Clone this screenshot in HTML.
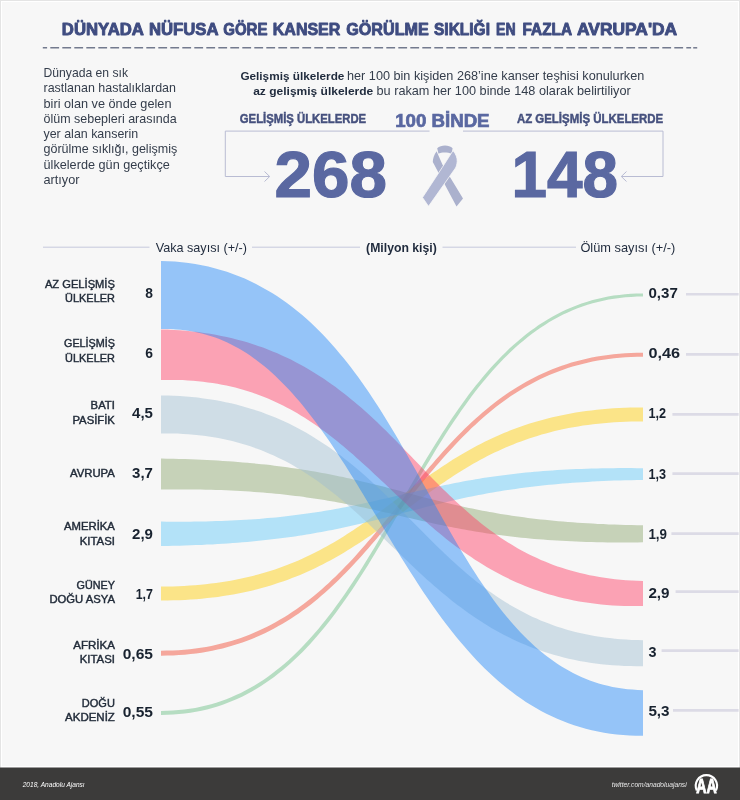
<!DOCTYPE html>
<html lang="tr"><head><meta charset="utf-8"><title>Dünyada nüfusa göre kanser görülme sıklığı</title>
<style>html,body{margin:0;padding:0;background:#f7f7f7;}body{width:740px;height:800px;overflow:hidden;}svg{display:block;font-family:"Liberation Sans",sans-serif;}</style></head>
<body><svg width="740" height="800" viewBox="0 0 740 800" font-family="Liberation Sans, sans-serif">
<rect x="0" y="0" width="740" height="800" fill="#e4e4e4"/>
<rect x="1" y="1" width="738" height="798" fill="#ffffff"/>
<rect x="2" y="2" width="736" height="764" fill="#f7f7f7"/>
<text y="35" font-size="16.6" font-weight="bold" fill="#3f4c80" stroke="#3f4c80" stroke-width="0.9" stroke-linejoin="round"><tspan x="61.8" textLength="81.5" lengthAdjust="spacingAndGlyphs">DÜNYADA</tspan> <tspan x="148.9" textLength="69.0" lengthAdjust="spacingAndGlyphs">NÜFUSA</tspan> <tspan x="223.2" textLength="44.3" lengthAdjust="spacingAndGlyphs">GÖRE</tspan> <tspan x="272.8" textLength="67.5" lengthAdjust="spacingAndGlyphs">KANSER</tspan> <tspan x="346.2" textLength="82.6" lengthAdjust="spacingAndGlyphs">GÖRÜLME</tspan> <tspan x="434.0" textLength="56.0" lengthAdjust="spacingAndGlyphs">SIKLIĞI</tspan> <tspan x="496.0" textLength="19.6" lengthAdjust="spacingAndGlyphs">EN</tspan> <tspan x="522.6" textLength="48.8" lengthAdjust="spacingAndGlyphs">FAZLA</tspan> <tspan x="577.0" textLength="100.2" lengthAdjust="spacingAndGlyphs">AVRUPA'DA</tspan></text>
<path d="M42.8 47.8H691.1" stroke="#737a8e" stroke-width="1.5" stroke-dasharray="8.8 3.2" stroke-dashoffset="4.5" fill="none"/>
<path d="M693.2 47.8H697.2" stroke="#737a8e" stroke-width="1.5" fill="none"/>
<text x="43.5" y="76.9" font-size="12.2" fill="#343d4b" textLength="84.5" lengthAdjust="spacingAndGlyphs">Dünyada en sık</text>
<text x="43.5" y="92.2" font-size="12.2" fill="#343d4b" textLength="132.5" lengthAdjust="spacingAndGlyphs">rastlanan hastalıklardan</text>
<text x="43.5" y="107.5" font-size="12.2" fill="#343d4b" textLength="128" lengthAdjust="spacingAndGlyphs">biri olan ve önde gelen</text>
<text x="43.5" y="122.8" font-size="12.2" fill="#343d4b" textLength="133.2" lengthAdjust="spacingAndGlyphs">ölüm sebepleri arasında</text>
<text x="43.5" y="138.1" font-size="12.2" fill="#343d4b" textLength="94.6" lengthAdjust="spacingAndGlyphs">yer alan kanserin</text>
<text x="43.5" y="153.4" font-size="12.2" fill="#343d4b" textLength="133.7" lengthAdjust="spacingAndGlyphs">görülme sıklığı, gelişmiş</text>
<text x="43.5" y="168.7" font-size="12.2" fill="#343d4b" textLength="126.3" lengthAdjust="spacingAndGlyphs">ülkelerde gün geçtikçe</text>
<text x="43.5" y="184.0" font-size="12.2" fill="#343d4b" textLength="36" lengthAdjust="spacingAndGlyphs">artıyor</text>
<text x="240.4" y="79.7" font-size="11.75" fill="#1f2a3c" font-weight="bold" textLength="104" lengthAdjust="spacingAndGlyphs">Gelişmiş ülkelerde</text>
<text x="347" y="79.7" font-size="12.2" fill="#343d4b" textLength="297.3" lengthAdjust="spacingAndGlyphs">her 100 bin kişiden 268’ine kanser teşhisi konulurken</text>
<text x="253.2" y="95" font-size="11.75" fill="#1f2a3c" font-weight="bold" textLength="120.1" lengthAdjust="spacingAndGlyphs">az gelişmiş ülkelerde</text>
<text x="376.5" y="95" font-size="12.2" fill="#343d4b" textLength="254.2" lengthAdjust="spacingAndGlyphs">bu rakam her 100 binde 148 olarak belirtiliyor</text>
<text x="239.8" y="123" font-size="12.6" fill="#46517e" font-weight="bold" textLength="126.3" lengthAdjust="spacingAndGlyphs" stroke="#46517e" stroke-width="0.45">GELİŞMİŞ ÜLKELERDE</text>
<text x="516.9" y="123" font-size="12.6" fill="#46517e" font-weight="bold" textLength="146.3" lengthAdjust="spacingAndGlyphs" stroke="#46517e" stroke-width="0.45">AZ GELİŞMİŞ ÜLKELERDE</text>
<text x="395.2" y="127" font-size="18.2" fill="#5a68a1" font-weight="bold" textLength="94.4" lengthAdjust="spacingAndGlyphs" stroke="#5a68a1" stroke-width="0.7">100 BİNDE</text>
<path d="M429.5 131.1H225.3V176.5H269.5" fill="none" stroke="#b9bcd3" stroke-width="1"/>
<path d="M264.5 171.5L269.7 176.5L264.5 181.5" fill="none" stroke="#b9bcd3" stroke-width="1"/>
<path d="M463 131.1H663V176.5H621.5" fill="none" stroke="#b9bcd3" stroke-width="1"/>
<path d="M626.5 171.5L621.3 176.5L626.5 181.5" fill="none" stroke="#b9bcd3" stroke-width="1"/>
<text x="274.6" y="197.3" font-size="64.5" fill="#5a68a1" font-weight="bold" textLength="112.4" lengthAdjust="spacingAndGlyphs" stroke="#5a68a1" stroke-width="1.2">268</text>
<text x="511.4" y="197.3" font-size="64.5" fill="#5a68a1" font-weight="bold" textLength="106.5" lengthAdjust="spacingAndGlyphs" stroke="#5a68a1" stroke-width="1.2">148</text>
<path d="M437.2 148.2C441 144.6 449 144.6 452.6 148.2L451.6 153.8C448 152 441.5 152 438.4 153.6Z" fill="#abb1cd"/>
<path d="M436.6 151.2C434 155 432.8 158.5 432.8 162L456.5 206.6L463 198.5L442.4 164.5Z" fill="#abb1cd"/>
<path d="M453 150.6C456 154 457.4 158 457.2 161.5C457 164 456.3 166.5 455.5 168L428.5 206.3L422.5 197.5L442.2 167.5Z" fill="#b1b7d3" stroke="#f7f7f7" stroke-width="0.8"/>
<path d="M43 247.2H149.5M252 247.2H360M442.5 247.2H576" stroke="#c5c8dc" stroke-width="1" fill="none"/>
<text x="155.7" y="251.5" font-size="12.2" fill="#1f2a3c" textLength="91.3" lengthAdjust="spacingAndGlyphs">Vaka sayısı (+/-)</text>
<text x="366.1" y="251.5" font-size="12" fill="#1f2a3c" font-weight="bold" textLength="70.7" lengthAdjust="spacingAndGlyphs">(Milyon kişi)</text>
<text x="580.4" y="251.5" font-size="12.2" fill="#1f2a3c" textLength="95" lengthAdjust="spacingAndGlyphs">Ölüm sayısı (+/-)</text>
<path d="M161.0 710.9L167.0 710.8L172.8 710.6L178.6 710.1L184.3 709.5L189.8 708.8L195.3 707.9L200.7 706.8L206.0 705.6L211.2 704.2L216.3 702.7L221.4 701.0L226.4 699.2L231.2 697.2L236.0 695.1L240.8 692.9L245.4 690.6L250.0 688.1L254.5 685.5L258.9 682.7L263.3 679.9L267.6 676.9L271.9 673.8L276.0 670.6L280.2 667.3L284.2 663.9L288.2 660.4L292.2 656.7L296.1 653.0L299.9 649.2L303.7 645.3L307.4 641.3L311.1 637.3L314.8 633.1L318.4 628.9L321.9 624.5L325.4 620.2L328.9 615.7L332.4 611.2L335.8 606.6L339.1 601.9L342.5 597.2L345.8 592.4L349.1 587.6L352.3 582.7L355.6 577.8L358.8 572.9L361.9 567.9L365.1 562.8L368.2 557.7L371.4 552.6L374.5 547.5L377.6 542.3L380.6 537.1L383.7 531.9L386.8 526.7L389.8 521.5L392.9 516.2L395.9 511.0L399.0 505.7L402.0 500.4L405.0 495.2L408.1 489.9L411.1 484.7L414.2 479.4L417.3 474.2L420.3 469.0L423.4 463.8L426.5 458.6L429.6 453.4L432.8 448.3L435.9 443.2L439.1 438.2L442.3 433.1L445.5 428.2L448.7 423.2L452.0 418.3L455.3 413.5L458.6 408.7L462.0 403.9L465.4 399.3L468.8 394.6L472.3 390.1L475.8 385.6L479.4 381.2L483.0 376.8L486.6 372.5L490.3 368.3L494.0 364.2L497.8 360.2L501.6 356.2L505.5 352.4L509.4 348.6L513.4 344.9L517.5 341.4L521.6 337.9L525.8 334.5L530.0 331.3L534.4 328.2L538.7 325.1L543.2 322.2L547.7 319.4L552.3 316.8L557.0 314.2L561.7 311.8L566.5 309.6L571.4 307.4L576.4 305.4L581.5 303.6L586.6 301.9L591.8 300.3L597.1 298.9L602.6 297.7L608.0 296.6L613.6 295.6L619.3 294.9L625.1 294.3L631.0 293.8L636.9 293.6L643.0 293.5L643.0 296.5L637.0 296.6L631.1 296.9L625.4 297.3L619.7 297.9L614.1 298.7L608.6 299.6L603.2 300.7L597.9 301.9L592.7 303.3L587.5 304.8L582.5 306.5L577.5 308.3L572.6 310.3L567.8 312.4L563.1 314.6L558.4 317.0L553.8 319.5L549.3 322.1L544.9 324.9L540.5 327.8L536.2 330.7L532.0 333.8L527.8 337.1L523.7 340.4L519.6 343.8L515.6 347.3L511.6 351.0L507.8 354.7L503.9 358.5L500.1 362.4L496.4 366.4L492.7 370.5L489.1 374.7L485.5 378.9L481.9 383.2L478.4 387.6L474.9 392.1L471.5 396.6L468.1 401.2L464.7 405.9L461.4 410.6L458.1 415.4L454.8 420.2L451.6 425.1L448.3 430.0L445.1 435.0L442.0 440.0L438.8 445.0L435.7 450.1L432.6 455.2L429.5 460.4L426.4 465.5L423.3 470.7L420.2 475.9L417.2 481.2L414.1 486.4L411.1 491.7L408.1 496.9L405.0 502.2L402.0 507.5L399.0 512.7L395.9 518.0L392.9 523.3L389.8 528.5L386.8 533.7L383.7 539.0L380.6 544.2L377.5 549.3L374.4 554.5L371.3 559.6L368.2 564.7L365.0 569.8L361.8 574.8L358.6 579.8L355.4 584.8L352.1 589.7L348.8 594.5L345.5 599.3L342.1 604.1L338.7 608.8L335.3 613.4L331.9 618.0L328.4 622.5L324.8 626.9L321.2 631.2L317.6 635.5L313.9 639.7L310.2 643.9L306.4 647.9L302.6 651.9L298.7 655.7L294.7 659.5L290.7 663.2L286.7 666.8L282.6 670.2L278.4 673.6L274.1 676.9L269.8 680.0L265.4 683.0L261.0 686.0L256.5 688.8L251.9 691.4L247.2 694.0L242.5 696.4L237.6 698.7L232.7 700.8L227.7 702.8L222.7 704.7L217.5 706.4L212.3 708.0L207.0 709.4L201.5 710.7L196.0 711.8L190.4 712.7L184.7 713.5L179.0 714.1L173.1 714.5L167.1 714.8L161.0 714.9Z" fill="#66bd80" fill-opacity="0.45"/>
<path d="M161.0 650.7L167.0 650.6L172.8 650.5L178.6 650.2L184.3 649.7L189.9 649.2L195.4 648.6L200.7 647.8L206.1 646.9L211.3 645.9L216.4 644.8L221.4 643.6L226.4 642.3L231.3 641.0L236.1 639.5L240.8 637.9L245.5 636.2L250.0 634.4L254.5 632.6L259.0 630.6L263.3 628.6L267.6 626.4L271.9 624.2L276.0 622.0L280.1 619.6L284.2 617.2L288.2 614.7L292.1 612.1L296.0 609.4L299.8 606.7L303.6 604.0L307.4 601.1L311.0 598.2L314.7 595.3L318.3 592.2L321.8 589.2L325.3 586.0L328.8 582.9L332.2 579.6L335.6 576.4L339.0 573.0L342.3 569.7L345.6 566.3L348.9 562.9L352.2 559.4L355.4 555.9L358.6 552.3L361.7 548.8L364.9 545.2L368.0 541.6L371.2 537.9L374.3 534.2L377.3 530.6L380.4 526.9L383.5 523.1L386.5 519.4L389.6 515.7L392.6 511.9L395.7 508.2L398.7 504.4L401.8 500.7L404.8 496.9L407.9 493.1L410.9 489.4L414.0 485.6L417.0 481.9L420.1 478.2L423.2 474.5L426.3 470.8L429.4 467.1L432.6 463.4L435.7 459.8L438.9 456.2L442.1 452.6L445.3 449.0L448.5 445.5L451.8 442.0L455.1 438.5L458.5 435.1L461.8 431.7L465.2 428.3L468.7 425.0L472.1 421.7L475.7 418.5L479.2 415.4L482.8 412.2L486.5 409.2L490.1 406.2L493.9 403.2L497.7 400.3L501.5 397.5L505.4 394.8L509.4 392.1L513.4 389.4L517.4 386.9L521.6 384.4L525.8 382.0L530.0 379.7L534.3 377.4L538.7 375.3L543.2 373.2L547.7 371.2L552.3 369.3L557.0 367.5L561.7 365.8L566.5 364.2L571.4 362.6L576.4 361.2L581.5 359.9L586.6 358.7L591.8 357.6L597.2 356.6L602.6 355.7L608.1 354.9L613.6 354.2L619.3 353.7L625.1 353.2L631.0 352.9L636.9 352.8L643.0 352.7L643.0 356.7L637.0 356.8L631.1 357.0L625.4 357.3L619.7 357.7L614.1 358.2L608.6 358.9L603.2 359.7L597.9 360.6L592.6 361.6L587.5 362.7L582.5 363.9L577.5 365.2L572.6 366.6L567.8 368.1L563.1 369.7L558.4 371.4L553.8 373.2L549.3 375.0L544.9 377.0L540.5 379.0L536.2 381.2L532.0 383.4L527.8 385.7L523.7 388.0L519.7 390.5L515.7 393.0L511.7 395.6L507.8 398.2L504.0 401.0L500.2 403.8L496.5 406.6L492.8 409.5L489.2 412.5L485.6 415.5L482.1 418.6L478.5 421.7L475.1 424.9L471.6 428.1L468.3 431.4L464.9 434.7L461.6 438.1L458.3 441.5L455.0 445.0L451.8 448.4L448.5 451.9L445.3 455.5L442.2 459.1L439.0 462.7L435.9 466.3L432.8 469.9L429.7 473.6L426.6 477.3L423.5 481.0L420.5 484.7L417.4 488.5L414.4 492.2L411.3 496.0L408.3 499.7L405.3 503.5L402.2 507.2L399.2 511.0L396.2 514.8L393.1 518.5L390.1 522.3L387.0 526.0L383.9 529.8L380.8 533.5L377.8 537.2L374.6 540.9L371.5 544.5L368.4 548.2L365.2 551.8L362.0 555.4L358.8 559.0L355.5 562.5L352.3 566.0L349.0 569.5L345.6 572.9L342.3 576.3L338.9 579.7L335.5 583.0L332.0 586.3L328.5 589.5L324.9 592.7L321.3 595.8L317.7 598.9L314.0 601.9L310.3 604.9L306.5 607.7L302.6 610.6L298.7 613.4L294.8 616.1L290.8 618.7L286.7 621.2L282.6 623.7L278.4 626.1L274.1 628.5L269.8 630.7L265.4 632.9L261.0 635.0L256.4 637.0L251.8 638.9L247.2 640.7L242.4 642.5L237.6 644.1L232.7 645.6L227.7 647.1L222.6 648.4L217.5 649.6L212.2 650.7L206.9 651.8L201.5 652.7L196.0 653.4L190.4 654.1L184.7 654.7L178.9 655.1L173.1 655.4L167.1 655.6L161.0 655.7Z" fill="#f2452c" fill-opacity="0.45"/>
<path d="M161.0 586.5L166.9 586.5L172.8 586.4L178.5 586.2L184.1 585.9L189.7 585.6L195.1 585.2L200.5 584.7L205.7 584.2L210.9 583.6L216.0 583.0L221.0 582.3L225.9 581.5L230.7 580.7L235.5 579.8L240.2 578.8L244.8 577.8L249.3 576.8L253.7 575.7L258.1 574.5L262.4 573.3L266.7 572.0L270.9 570.7L275.0 569.4L279.0 568.0L283.0 566.5L287.0 565.1L290.8 563.5L294.7 562.0L298.4 560.4L302.2 558.7L305.8 557.0L309.5 555.3L313.1 553.6L316.6 551.8L320.1 549.9L323.6 548.1L327.0 546.2L330.4 544.3L333.7 542.4L337.0 540.4L340.3 538.4L343.6 536.4L346.8 534.3L350.0 532.3L353.2 530.2L356.4 528.1L359.5 526.0L362.7 523.8L365.8 521.7L368.9 519.5L371.9 517.3L375.0 515.1L378.1 512.9L381.1 510.7L384.2 508.4L387.2 506.2L390.2 504.0L393.3 501.7L396.3 499.5L399.3 497.2L402.4 494.9L405.4 492.7L408.5 490.4L411.6 488.2L414.6 485.9L417.7 483.7L420.8 481.4L423.9 479.2L427.1 477.0L430.2 474.8L433.4 472.5L436.6 470.4L439.8 468.2L443.1 466.0L446.3 463.9L449.6 461.8L453.0 459.6L456.4 457.6L459.8 455.5L463.2 453.5L466.7 451.4L470.2 449.5L473.8 447.5L477.4 445.6L481.0 443.7L484.7 441.8L488.5 440.0L492.2 438.2L496.1 436.4L500.0 434.7L503.9 433.0L507.9 431.4L512.0 429.8L516.1 428.2L520.3 426.7L524.6 425.3L528.9 423.8L533.2 422.5L537.7 421.2L542.2 419.9L546.8 418.7L551.4 417.5L556.1 416.4L560.9 415.4L565.8 414.4L570.8 413.5L575.8 412.6L580.9 411.8L586.1 411.0L591.4 410.4L596.8 409.8L602.2 409.2L607.8 408.7L613.4 408.3L619.1 408.0L625.0 407.7L630.9 407.6L636.9 407.4L643.0 407.4L643.0 421.4L637.1 421.4L631.2 421.5L625.5 421.7L619.9 422.0L614.3 422.3L608.9 422.7L603.5 423.2L598.3 423.7L593.1 424.3L588.0 424.9L583.0 425.6L578.1 426.4L573.3 427.2L568.5 428.1L563.8 429.1L559.2 430.1L554.7 431.1L550.3 432.2L545.9 433.4L541.6 434.6L537.3 435.9L533.1 437.2L529.0 438.5L525.0 439.9L521.0 441.4L517.0 442.8L513.2 444.4L509.3 445.9L505.6 447.5L501.8 449.2L498.2 450.9L494.5 452.6L490.9 454.3L487.4 456.1L483.9 458.0L480.4 459.8L477.0 461.7L473.6 463.6L470.3 465.5L467.0 467.5L463.7 469.5L460.4 471.5L457.2 473.6L454.0 475.6L450.8 477.7L447.6 479.8L444.5 481.9L441.3 484.1L438.2 486.2L435.1 488.4L432.1 490.6L429.0 492.8L425.9 495.0L422.9 497.2L419.8 499.5L416.8 501.7L413.8 503.9L410.7 506.2L407.7 508.4L404.7 510.7L401.6 513.0L398.6 515.2L395.5 517.5L392.4 519.7L389.4 522.0L386.3 524.2L383.2 526.5L380.1 528.7L376.9 530.9L373.8 533.1L370.6 535.4L367.4 537.5L364.2 539.7L360.9 541.9L357.7 544.0L354.4 546.1L351.0 548.3L347.6 550.3L344.2 552.4L340.8 554.4L337.3 556.5L333.8 558.4L330.2 560.4L326.6 562.3L323.0 564.2L319.3 566.1L315.5 567.9L311.8 569.7L307.9 571.5L304.0 573.2L300.1 574.9L296.1 576.5L292.0 578.1L287.9 579.7L283.7 581.2L279.4 582.6L275.1 584.1L270.8 585.4L266.3 586.7L261.8 588.0L257.2 589.2L252.6 590.4L247.9 591.5L243.1 592.5L238.2 593.5L233.2 594.4L228.2 595.3L223.1 596.1L217.9 596.9L212.6 597.5L207.2 598.1L201.8 598.7L196.2 599.2L190.6 599.6L184.9 599.9L179.0 600.2L173.1 600.3L167.1 600.5L161.0 600.5Z" fill="#ffcc00" fill-opacity="0.45"/>
<path d="M161.0 521.6L167.0 521.7L172.8 521.7L178.6 521.7L184.3 521.7L189.9 521.7L195.4 521.6L200.8 521.5L206.1 521.4L211.3 521.3L216.4 521.1L221.5 521.0L226.4 520.8L231.3 520.6L236.1 520.3L240.8 520.1L245.5 519.8L250.1 519.5L254.6 519.2L259.0 518.9L263.3 518.5L267.6 518.1L271.9 517.8L276.0 517.4L280.1 516.9L284.2 516.5L288.1 516.1L292.1 515.6L295.9 515.1L299.7 514.6L303.5 514.1L307.2 513.6L310.9 513.1L314.5 512.5L318.1 512.0L321.6 511.4L325.1 510.8L328.6 510.3L332.0 509.7L335.4 509.1L338.7 508.4L342.0 507.8L345.3 507.2L348.6 506.5L351.8 505.9L355.0 505.2L358.2 504.6L361.4 503.9L364.5 503.2L367.6 502.6L370.7 501.9L373.8 501.2L376.9 500.5L380.0 499.8L383.1 499.1L386.1 498.4L389.2 497.7L392.2 497.0L395.3 496.3L398.3 495.5L401.4 494.8L404.4 494.1L407.5 493.4L410.5 492.7L413.6 492.0L416.7 491.3L419.8 490.6L422.9 489.9L426.0 489.2L429.1 488.5L432.3 487.8L435.5 487.1L438.6 486.4L441.9 485.7L445.1 485.0L448.4 484.4L451.7 483.7L455.0 483.0L458.4 482.4L461.8 481.8L465.2 481.1L468.6 480.5L472.1 479.9L475.7 479.3L479.3 478.7L482.9 478.1L486.5 477.6L490.2 477.0L494.0 476.5L497.8 475.9L501.7 475.4L505.6 474.9L509.5 474.4L513.6 473.9L517.6 473.5L521.8 473.0L526.0 472.6L530.2 472.2L534.5 471.8L538.9 471.4L543.4 471.1L547.9 470.7L552.5 470.4L557.2 470.1L561.9 469.8L566.7 469.6L571.6 469.3L576.6 469.1L581.6 468.9L586.8 468.7L592.0 468.6L597.3 468.4L602.7 468.3L608.2 468.2L613.7 468.2L619.4 468.1L625.1 468.1L631.0 468.1L637.0 468.2L643.0 468.2L643.0 480.0L637.0 480.0L631.1 480.2L625.3 480.3L619.6 480.5L614.0 480.6L608.5 480.8L603.1 481.1L597.7 481.3L592.5 481.6L587.4 481.9L582.3 482.2L577.3 482.5L572.4 482.8L567.6 483.2L562.9 483.6L558.2 484.0L553.6 484.4L549.1 484.8L544.7 485.3L540.3 485.8L536.0 486.2L531.8 486.7L527.6 487.2L523.5 487.8L519.5 488.3L515.5 488.9L511.6 489.4L507.7 490.0L503.9 490.6L500.1 491.2L496.4 491.8L492.7 492.5L489.1 493.1L485.5 493.8L482.0 494.4L478.5 495.1L475.1 495.8L471.7 496.4L468.3 497.1L465.0 497.8L461.7 498.6L458.4 499.3L455.1 500.0L451.9 500.7L448.7 501.5L445.6 502.2L442.4 503.0L439.3 503.7L436.2 504.5L433.1 505.3L430.0 506.0L426.9 506.8L423.9 507.6L420.8 508.4L417.8 509.2L414.8 509.9L411.7 510.7L408.7 511.5L405.7 512.3L402.7 513.1L399.6 513.9L396.6 514.7L393.5 515.5L390.5 516.3L387.4 517.1L384.4 517.9L381.3 518.6L378.2 519.4L375.1 520.2L371.9 521.0L368.8 521.8L365.6 522.5L362.4 523.3L359.1 524.0L355.9 524.8L352.6 525.5L349.3 526.3L345.9 527.0L342.6 527.8L339.2 528.5L335.7 529.2L332.2 529.9L328.7 530.6L325.1 531.3L321.5 531.9L317.8 532.6L314.1 533.3L310.4 533.9L306.6 534.5L302.7 535.2L298.8 535.8L294.8 536.4L290.8 536.9L286.7 537.5L282.6 538.1L278.4 538.6L274.1 539.1L269.8 539.6L265.4 540.1L261.0 540.6L256.4 541.0L251.8 541.5L247.1 541.9L242.4 542.3L237.6 542.7L232.7 543.1L227.7 543.4L222.6 543.8L217.5 544.1L212.2 544.4L206.9 544.6L201.5 544.9L196.0 545.1L190.4 545.3L184.7 545.5L178.9 545.7L173.1 545.8L167.1 545.9L161.0 546.0Z" fill="#60c8f8" fill-opacity="0.45"/>
<path d="M161.0 458.6L167.1 458.7L173.1 458.8L179.0 459.0L184.8 459.1L190.5 459.3L196.1 459.5L201.6 459.8L207.0 460.0L212.3 460.3L217.6 460.6L222.8 460.9L227.8 461.3L232.8 461.6L237.8 462.0L242.6 462.4L247.4 462.8L252.1 463.2L256.7 463.7L261.2 464.2L265.7 464.6L270.1 465.1L274.5 465.7L278.8 466.2L283.0 466.7L287.1 467.3L291.2 467.9L295.3 468.5L299.2 469.1L303.2 469.7L307.0 470.3L310.9 470.9L314.6 471.6L318.3 472.2L322.0 472.9L325.6 473.6L329.2 474.3L332.8 475.0L336.3 475.7L339.7 476.4L343.2 477.1L346.6 477.9L349.9 478.6L353.2 479.4L356.5 480.1L359.8 480.9L363.0 481.7L366.2 482.4L369.4 483.2L372.6 484.0L375.7 484.8L378.9 485.5L382.0 486.3L385.1 487.1L388.1 487.9L391.2 488.7L394.3 489.5L397.3 490.3L400.3 491.1L403.4 491.9L406.4 492.7L409.4 493.5L412.4 494.3L415.5 495.1L418.5 495.9L421.5 496.7L424.6 497.4L427.6 498.2L430.7 499.0L433.8 499.8L436.8 500.5L439.9 501.3L443.1 502.1L446.2 502.8L449.4 503.6L452.5 504.3L455.7 505.1L459.0 505.8L462.2 506.5L465.5 507.2L468.9 507.9L472.2 508.6L475.6 509.3L479.0 510.0L482.5 510.7L486.0 511.3L489.6 512.0L493.2 512.6L496.8 513.3L500.5 513.9L504.3 514.5L508.1 515.1L511.9 515.7L515.8 516.2L519.8 516.8L523.8 517.3L527.9 517.9L532.1 518.4L536.3 518.9L540.6 519.4L544.9 519.8L549.4 520.3L553.8 520.7L558.4 521.2L563.1 521.6L567.8 521.9L572.6 522.3L577.5 522.7L582.4 523.0L587.5 523.3L592.6 523.6L597.8 523.9L603.2 524.1L608.6 524.4L614.1 524.6L619.6 524.8L625.3 524.9L631.1 525.1L637.0 525.2L643.0 525.3L643.0 542.3L636.9 542.4L631.0 542.4L625.1 542.4L619.3 542.4L613.7 542.4L608.1 542.4L602.6 542.3L597.2 542.2L591.9 542.0L586.6 541.9L581.5 541.7L576.4 541.5L571.4 541.3L566.5 541.1L561.7 540.8L557.0 540.6L552.3 540.3L547.7 539.9L543.1 539.6L538.7 539.2L534.3 538.9L529.9 538.5L525.7 538.1L521.4 537.7L517.3 537.2L513.2 536.8L509.2 536.3L505.2 535.8L501.3 535.3L497.4 534.8L493.6 534.3L489.8 533.7L486.1 533.2L482.4 532.6L478.8 532.0L475.2 531.4L471.6 530.8L468.1 530.2L464.6 529.6L461.2 529.0L457.8 528.3L454.4 527.7L451.1 527.0L447.8 526.4L444.5 525.7L441.2 525.0L438.0 524.4L434.8 523.7L431.6 523.0L428.5 522.3L425.3 521.6L422.2 520.9L419.1 520.2L416.0 519.5L412.9 518.8L409.8 518.1L406.8 517.4L403.7 516.7L400.6 516.0L397.6 515.2L394.5 514.5L391.5 513.8L388.5 513.1L385.4 512.4L382.3 511.7L379.3 511.0L376.2 510.3L373.1 509.6L370.0 509.0L366.9 508.3L363.8 507.6L360.7 506.9L357.5 506.3L354.4 505.6L351.2 505.0L347.9 504.3L344.7 503.7L341.4 503.1L338.1 502.5L334.8 501.8L331.4 501.2L328.0 500.7L324.6 500.1L321.1 499.5L317.6 499.0L314.0 498.4L310.4 497.9L306.7 497.4L303.1 496.8L299.3 496.3L295.5 495.9L291.6 495.4L287.7 494.9L283.8 494.5L279.8 494.1L275.7 493.7L271.5 493.3L267.3 492.9L263.0 492.5L258.7 492.2L254.3 491.9L249.8 491.6L245.2 491.3L240.6 491.0L235.9 490.8L231.1 490.5L226.3 490.3L221.3 490.1L216.3 490.0L211.2 489.8L206.0 489.7L200.7 489.6L195.3 489.5L189.8 489.5L184.2 489.5L178.6 489.5L172.8 489.5L167.0 489.5L161.0 489.6Z" fill="#8aa36a" fill-opacity="0.45"/>
<path d="M161.0 395.4L167.3 395.5L173.6 395.7L179.7 396.1L185.8 396.5L191.8 397.0L197.6 397.6L203.4 398.4L209.1 399.2L214.7 400.1L220.2 401.1L225.6 402.2L231.0 403.3L236.2 404.6L241.4 405.9L246.5 407.4L251.5 408.9L256.4 410.5L261.3 412.1L266.1 413.9L270.8 415.7L275.4 417.6L280.0 419.5L284.5 421.6L288.9 423.6L293.2 425.8L297.5 428.0L301.7 430.3L305.9 432.6L310.0 435.0L314.0 437.4L317.9 439.9L321.8 442.4L325.7 444.9L329.5 447.6L333.2 450.2L336.9 452.9L340.6 455.6L344.1 458.4L347.7 461.2L351.2 464.0L354.6 466.8L358.1 469.7L361.4 472.6L364.8 475.6L368.1 478.5L371.4 481.5L374.6 484.4L377.8 487.4L381.0 490.5L384.2 493.5L387.3 496.5L390.4 499.6L393.5 502.6L396.6 505.6L399.6 508.7L402.7 511.8L405.7 514.8L408.7 517.9L411.8 520.9L414.8 524.0L417.8 527.0L420.8 530.0L423.8 533.0L426.7 536.0L429.7 539.0L432.7 542.0L435.7 545.0L438.8 547.9L441.8 550.8L444.8 553.7L447.8 556.6L450.9 559.4L454.0 562.3L457.0 565.1L460.1 567.8L463.3 570.6L466.4 573.3L469.6 576.0L472.8 578.6L476.0 581.2L479.3 583.8L482.5 586.3L485.8 588.8L489.2 591.2L492.6 593.6L496.0 596.0L499.4 598.3L502.9 600.6L506.5 602.8L510.1 604.9L513.7 607.1L517.4 609.1L521.1 611.1L524.9 613.1L528.7 615.0L532.6 616.9L536.6 618.6L540.6 620.4L544.7 622.0L548.8 623.6L553.1 625.2L557.3 626.7L561.7 628.1L566.1 629.4L570.6 630.7L575.2 631.9L579.9 633.0L584.6 634.1L589.5 635.0L594.4 635.9L599.4 636.7L604.5 637.5L609.7 638.1L615.0 638.7L620.4 639.2L625.9 639.6L631.5 639.9L637.2 640.1L643.0 640.2L643.0 666.2L636.8 666.2L630.6 666.1L624.6 665.9L618.6 665.6L612.7 665.2L606.9 664.7L601.2 664.2L595.6 663.5L590.1 662.7L584.6 661.8L579.3 660.9L574.0 659.8L568.8 658.7L563.7 657.4L558.6 656.1L553.7 654.8L548.8 653.3L544.0 651.7L539.2 650.1L534.5 648.4L529.9 646.7L525.4 644.8L520.9 642.9L516.5 641.0L512.2 638.9L507.9 636.8L503.7 634.7L499.6 632.5L495.5 630.2L491.4 627.9L487.5 625.5L483.5 623.1L479.7 620.6L475.8 618.1L472.1 615.5L468.4 612.9L464.7 610.3L461.1 607.6L457.5 604.9L453.9 602.2L450.4 599.4L447.0 596.6L443.5 593.8L440.2 591.0L436.8 588.1L433.5 585.2L430.2 582.3L426.9 579.4L423.7 576.4L420.4 573.5L417.2 570.5L414.1 567.5L410.9 564.6L407.8 561.6L404.6 558.6L401.5 555.6L398.4 552.6L395.4 549.6L392.3 546.7L389.2 543.7L386.1 540.7L383.1 537.7L380.0 534.8L377.0 531.9L373.9 528.9L370.8 526.0L367.8 523.1L364.7 520.3L361.6 517.4L358.5 514.6L355.4 511.8L352.3 509.0L349.2 506.3L346.1 503.5L342.9 500.8L339.7 498.2L336.5 495.6L333.3 493.0L330.1 490.4L326.8 487.9L323.5 485.4L320.2 483.0L316.9 480.6L313.5 478.2L310.1 475.9L306.7 473.7L303.2 471.5L299.7 469.3L296.1 467.2L292.5 465.1L288.9 463.1L285.2 461.1L281.5 459.2L277.7 457.4L273.8 455.6L270.0 453.9L266.0 452.2L262.0 450.6L258.0 449.0L253.8 447.6L249.7 446.1L245.4 444.8L241.1 443.5L236.7 442.3L232.3 441.1L227.7 440.1L223.1 439.1L218.4 438.1L213.7 437.3L208.8 436.5L203.9 435.8L198.9 435.2L193.7 434.7L188.5 434.2L183.2 433.9L177.8 433.6L172.3 433.5L166.7 433.4L161.0 433.4Z" fill="#9dbcd0" fill-opacity="0.45"/>
<path d="M161.0 329.4L167.4 329.6L173.8 329.9L180.0 330.3L186.2 330.8L192.3 331.4L198.2 332.1L204.1 332.9L209.9 333.8L215.6 334.8L221.2 335.9L226.7 337.1L232.1 338.3L237.5 339.7L242.7 341.1L247.9 342.6L253.0 344.2L258.0 345.9L263.0 347.6L267.8 349.5L272.6 351.4L277.3 353.3L281.9 355.4L286.4 357.5L290.9 359.6L295.3 361.9L299.6 364.2L303.9 366.5L308.1 368.9L312.2 371.4L316.2 373.9L320.2 376.4L324.2 379.1L328.0 381.7L331.9 384.4L335.6 387.1L339.3 389.9L343.0 392.7L346.6 395.5L350.1 398.4L353.6 401.3L357.1 404.2L360.5 407.1L363.9 410.1L367.2 413.1L370.5 416.1L373.7 419.1L377.0 422.1L380.2 425.2L383.3 428.3L386.5 431.3L389.6 434.4L392.7 437.5L395.7 440.6L398.8 443.7L401.8 446.8L404.8 449.9L407.8 453.0L410.8 456.1L413.8 459.2L416.8 462.2L419.7 465.3L422.7 468.4L425.6 471.4L428.6 474.5L431.5 477.5L434.5 480.5L437.5 483.5L440.4 486.4L443.4 489.4L446.4 492.3L449.4 495.2L452.4 498.1L455.4 501.0L458.4 503.8L461.5 506.6L464.6 509.3L467.7 512.1L470.8 514.8L473.9 517.4L477.1 520.1L480.3 522.7L483.5 525.2L486.8 527.7L490.1 530.2L493.4 532.6L496.8 535.0L500.2 537.4L503.7 539.7L507.2 541.9L510.7 544.1L514.3 546.3L517.9 548.4L521.6 550.4L525.4 552.4L529.2 554.4L533.0 556.3L537.0 558.1L540.9 559.9L545.0 561.6L549.1 563.3L553.3 564.9L557.5 566.4L561.9 567.8L566.3 569.2L570.7 570.6L575.3 571.8L580.0 573.0L584.7 574.1L589.5 575.2L594.4 576.1L599.4 577.0L604.5 577.8L609.7 578.5L615.0 579.2L620.4 579.7L625.9 580.2L631.5 580.5L637.2 580.8L643.0 581.0L643.0 606.0L636.8 606.1L630.6 606.1L624.6 605.9L618.6 605.7L612.7 605.4L606.9 605.0L601.2 604.4L595.6 603.8L590.1 603.1L584.6 602.3L579.2 601.4L573.9 600.4L568.7 599.3L563.6 598.2L558.5 596.9L553.5 595.6L548.6 594.2L543.8 592.7L539.0 591.1L534.3 589.5L529.6 587.7L525.1 585.9L520.5 584.1L516.1 582.2L511.7 580.2L507.4 578.1L503.2 576.0L499.0 573.8L494.8 571.6L490.7 569.3L486.7 567.0L482.8 564.6L478.8 562.1L475.0 559.7L471.2 557.1L467.4 554.6L463.7 552.0L460.0 549.3L456.4 546.7L452.8 543.9L449.2 541.2L445.7 538.4L442.2 535.6L438.8 532.8L435.4 530.0L432.0 527.1L428.7 524.2L425.4 521.3L422.1 518.4L418.8 515.5L415.6 512.6L412.3 509.6L409.1 506.7L406.0 503.7L402.8 500.8L399.6 497.8L396.5 494.9L393.4 491.9L390.3 489.0L387.2 486.0L384.1 483.1L381.0 480.2L377.9 477.3L374.8 474.4L371.7 471.5L368.6 468.6L365.5 465.8L362.4 463.0L359.3 460.2L356.2 457.4L353.1 454.6L350.0 451.9L346.8 449.2L343.7 446.6L340.5 443.9L337.3 441.3L334.1 438.8L330.9 436.2L327.7 433.8L324.4 431.3L321.1 428.9L317.8 426.5L314.5 424.2L311.1 421.9L307.7 419.7L304.3 417.5L300.8 415.4L297.4 413.3L293.8 411.3L290.3 409.3L286.7 407.4L283.0 405.5L279.3 403.7L275.6 401.9L271.8 400.2L268.0 398.5L264.1 397.0L260.2 395.4L256.2 394.0L252.1 392.6L248.0 391.2L243.9 390.0L239.6 388.8L235.3 387.6L230.9 386.6L226.5 385.6L222.0 384.7L217.4 383.8L212.7 383.1L207.9 382.4L203.1 381.8L198.1 381.2L193.1 380.8L188.0 380.4L182.8 380.1L177.5 380.0L172.1 379.9L166.6 379.9L161.0 379.9Z" fill="#ff3a62" fill-opacity="0.45"/>
<path d="M161.0 261.0L168.0 261.2L174.9 261.6L181.8 262.2L188.5 263.0L195.2 264.0L201.7 265.2L208.2 266.6L214.5 268.2L220.7 269.9L226.9 271.8L232.9 273.9L238.8 276.2L244.7 278.6L250.4 281.2L256.0 284.0L261.4 286.9L266.8 289.9L272.1 293.0L277.3 296.3L282.3 299.8L287.3 303.3L292.2 307.0L296.9 310.7L301.6 314.6L306.2 318.5L310.6 322.6L315.0 326.8L319.3 331.0L323.5 335.3L327.7 339.7L331.7 344.2L335.7 348.7L339.6 353.4L343.5 358.0L347.3 362.8L351.0 367.6L354.7 372.4L358.3 377.3L361.8 382.3L365.3 387.3L368.8 392.3L372.2 397.4L375.5 402.5L378.8 407.6L382.1 412.8L385.3 418.0L388.5 423.3L391.7 428.5L394.9 433.8L398.0 439.1L401.1 444.4L404.1 449.7L407.2 455.1L410.2 460.4L413.2 465.8L416.2 471.1L419.2 476.4L422.1 481.8L425.1 487.1L428.1 492.4L431.0 497.7L433.9 503.0L436.9 508.3L439.8 513.5L442.7 518.8L445.7 524.0L448.6 529.1L451.6 534.3L454.5 539.3L457.5 544.4L460.5 549.4L463.5 554.4L466.5 559.3L469.5 564.2L472.5 569.0L475.6 573.7L478.6 578.4L481.7 583.0L484.8 587.6L488.0 592.1L491.1 596.5L494.3 600.9L497.5 605.2L500.8 609.4L504.0 613.5L507.3 617.5L510.7 621.4L514.0 625.3L517.4 629.0L520.8 632.7L524.3 636.3L527.8 639.7L531.3 643.1L534.9 646.4L538.5 649.5L542.1 652.6L545.8 655.5L549.6 658.3L553.4 661.1L557.2 663.7L561.1 666.2L565.0 668.6L569.0 670.8L573.0 673.0L577.1 675.0L581.3 676.9L585.5 678.7L589.8 680.4L594.2 681.9L598.7 683.4L603.2 684.7L607.8 685.8L612.5 686.9L617.4 687.8L622.3 688.5L627.3 689.2L632.4 689.6L637.6 690.0L643.0 690.2L643.0 735.7L636.3 735.7L629.7 735.5L623.2 735.1L616.7 734.5L610.4 733.7L604.1 732.8L597.9 731.6L591.8 730.3L585.8 728.8L579.9 727.1L574.1 725.3L568.4 723.3L562.8 721.1L557.2 718.8L551.8 716.3L546.4 713.7L541.1 710.9L536.0 708.0L530.9 705.0L525.9 701.9L521.0 698.6L516.2 695.2L511.4 691.6L506.8 688.0L502.2 684.3L497.7 680.4L493.3 676.5L489.0 672.5L484.7 668.4L480.5 664.2L476.4 659.9L472.3 655.6L468.3 651.1L464.4 646.6L460.5 642.1L456.7 637.4L452.9 632.8L449.2 628.0L445.5 623.2L441.9 618.4L438.3 613.5L434.7 608.5L431.2 603.6L427.8 598.5L424.3 593.5L421.0 588.4L417.6 583.3L414.3 578.1L411.0 573.0L407.7 567.8L404.4 562.6L401.2 557.4L398.0 552.1L394.8 546.9L391.6 541.7L388.4 536.4L385.3 531.2L382.1 526.0L379.0 520.7L375.9 515.5L372.7 510.3L369.6 505.1L366.5 500.0L363.4 494.8L360.3 489.7L357.2 484.6L354.1 479.6L350.9 474.5L347.8 469.6L344.7 464.6L341.5 459.7L338.4 454.9L335.2 450.1L332.1 445.3L328.9 440.6L325.7 436.0L322.5 431.5L319.2 427.0L316.0 422.6L312.7 418.2L309.4 413.9L306.1 409.7L302.8 405.6L299.5 401.6L296.1 397.7L292.7 393.8L289.3 390.1L285.9 386.4L282.4 382.9L278.9 379.4L275.4 376.0L271.9 372.8L268.3 369.6L264.7 366.6L261.1 363.7L257.5 360.9L253.8 358.2L250.1 355.6L246.4 353.1L242.7 350.8L238.9 348.5L235.0 346.4L231.2 344.4L227.3 342.5L223.3 340.8L219.3 339.1L215.3 337.6L211.2 336.2L207.0 334.9L202.8 333.7L198.5 332.7L194.1 331.7L189.6 330.9L185.1 330.3L180.5 329.7L175.8 329.4L170.9 329.1L166.0 329.0L161.0 329.0Z" fill="#1c84f8" fill-opacity="0.45"/>
<text x="44.9" y="287.8" font-size="10.3" fill="#222c3a" textLength="70" lengthAdjust="spacingAndGlyphs" stroke="#222c3a" stroke-width="0.4">AZ GELİŞMİŞ</text>
<text x="65.1" y="302.4" font-size="10.3" fill="#222c3a" textLength="49.8" lengthAdjust="spacingAndGlyphs" stroke="#222c3a" stroke-width="0.4">ÜLKELER</text>
<text x="145.3" y="298.4" font-size="14.5" fill="#18222f" font-weight="bold" textLength="7.7" lengthAdjust="spacingAndGlyphs">8</text>
<text x="64.0" y="347.3" font-size="10.3" fill="#222c3a" textLength="50.9" lengthAdjust="spacingAndGlyphs" stroke="#222c3a" stroke-width="0.4">GELİŞMİŞ</text>
<text x="65.1" y="362.1" font-size="10.3" fill="#222c3a" textLength="49.8" lengthAdjust="spacingAndGlyphs" stroke="#222c3a" stroke-width="0.4">ÜLKELER</text>
<text x="145.3" y="358.4" font-size="14.5" fill="#18222f" font-weight="bold" textLength="7.7" lengthAdjust="spacingAndGlyphs">6</text>
<text x="90.6" y="409.1" font-size="10.3" fill="#222c3a" textLength="24.3" lengthAdjust="spacingAndGlyphs" stroke="#222c3a" stroke-width="0.4">BATI</text>
<text x="72.4" y="423.6" font-size="10.3" fill="#222c3a" textLength="42.5" lengthAdjust="spacingAndGlyphs" stroke="#222c3a" stroke-width="0.4">PASİFİK</text>
<text x="132.1" y="417.9" font-size="14.5" fill="#18222f" font-weight="bold" textLength="20.9" lengthAdjust="spacingAndGlyphs">4,5</text>
<text x="70.0" y="476.8" font-size="10.3" fill="#222c3a" textLength="44.9" lengthAdjust="spacingAndGlyphs" stroke="#222c3a" stroke-width="0.4">AVRUPA</text>
<text x="132.1" y="477.6" font-size="14.5" fill="#18222f" font-weight="bold" textLength="20.9" lengthAdjust="spacingAndGlyphs">3,7</text>
<text x="64.0" y="530.1" font-size="10.3" fill="#222c3a" textLength="50.9" lengthAdjust="spacingAndGlyphs" stroke="#222c3a" stroke-width="0.4">AMERİKA</text>
<text x="79.7" y="544.7" font-size="10.3" fill="#222c3a" textLength="35.2" lengthAdjust="spacingAndGlyphs" stroke="#222c3a" stroke-width="0.4">KITASI</text>
<text x="132.1" y="538.7" font-size="14.5" fill="#18222f" font-weight="bold" textLength="20.9" lengthAdjust="spacingAndGlyphs">2,9</text>
<text x="76.5" y="589.3" font-size="10.3" fill="#222c3a" textLength="38.4" lengthAdjust="spacingAndGlyphs" stroke="#222c3a" stroke-width="0.4">GÜNEY</text>
<text x="49.4" y="603.4" font-size="10.3" fill="#222c3a" textLength="65.5" lengthAdjust="spacingAndGlyphs" stroke="#222c3a" stroke-width="0.4">DOĞU ASYA</text>
<text x="135.7" y="598.7" font-size="14.5" fill="#18222f" font-weight="bold" textLength="17.3" lengthAdjust="spacingAndGlyphs">1,7</text>
<text x="73.2" y="649" font-size="10.3" fill="#222c3a" textLength="41.7" lengthAdjust="spacingAndGlyphs" stroke="#222c3a" stroke-width="0.4">AFRİKA</text>
<text x="79.7" y="663.4" font-size="10.3" fill="#222c3a" textLength="35.2" lengthAdjust="spacingAndGlyphs" stroke="#222c3a" stroke-width="0.4">KITASI</text>
<text x="122.7" y="658.7" font-size="14.5" fill="#18222f" font-weight="bold" textLength="30.3" lengthAdjust="spacingAndGlyphs">0,65</text>
<text x="81.8" y="706.9" font-size="10.3" fill="#222c3a" textLength="33.1" lengthAdjust="spacingAndGlyphs" stroke="#222c3a" stroke-width="0.4">DOĞU</text>
<text x="65.1" y="721" font-size="10.3" fill="#222c3a" textLength="49.8" lengthAdjust="spacingAndGlyphs" stroke="#222c3a" stroke-width="0.4">AKDENİZ</text>
<text x="122.7" y="716.8" font-size="14.5" fill="#18222f" font-weight="bold" textLength="30.3" lengthAdjust="spacingAndGlyphs">0,55</text>
<text x="648.4" y="297.8" font-size="14.2" fill="#18222f" font-weight="bold" textLength="29.4" lengthAdjust="spacingAndGlyphs">0,37</text>
<line x1="686" y1="294.2" x2="738.6" y2="294.2" stroke="#dcdbe6" stroke-width="2.6"/>
<text x="648.4" y="358.4" font-size="14.2" fill="#18222f" font-weight="bold" textLength="31.6" lengthAdjust="spacingAndGlyphs">0,46</text>
<line x1="686" y1="354.4" x2="738.6" y2="354.4" stroke="#dcdbe6" stroke-width="2.6"/>
<text x="648.4" y="418.4" font-size="14.2" fill="#18222f" font-weight="bold" textLength="17.6" lengthAdjust="spacingAndGlyphs">1,2</text>
<line x1="672.4" y1="414.4" x2="738.6" y2="414.4" stroke="#dcdbe6" stroke-width="2.6"/>
<text x="648.4" y="479" font-size="14.2" fill="#18222f" font-weight="bold" textLength="17.6" lengthAdjust="spacingAndGlyphs">1,3</text>
<line x1="672.4" y1="473.6" x2="738.6" y2="473.6" stroke="#dcdbe6" stroke-width="2.6"/>
<text x="648.4" y="538.7" font-size="14.2" fill="#18222f" font-weight="bold" textLength="18.6" lengthAdjust="spacingAndGlyphs">1,9</text>
<line x1="671.4" y1="533.6" x2="738.6" y2="533.6" stroke="#dcdbe6" stroke-width="2.6"/>
<text x="648.4" y="598.4" font-size="14.2" fill="#18222f" font-weight="bold" textLength="21.2" lengthAdjust="spacingAndGlyphs">2,9</text>
<line x1="675.6" y1="591.6" x2="738.6" y2="591.6" stroke="#dcdbe6" stroke-width="2.6"/>
<text x="648.4" y="657" font-size="14.2" fill="#18222f" font-weight="bold" textLength="8" lengthAdjust="spacingAndGlyphs">3</text>
<line x1="661.6" y1="650.6" x2="738.6" y2="650.6" stroke="#dcdbe6" stroke-width="2.6"/>
<text x="648.4" y="716.4" font-size="14.2" fill="#18222f" font-weight="bold" textLength="21.2" lengthAdjust="spacingAndGlyphs">5,3</text>
<line x1="673" y1="710.4" x2="738.6" y2="710.4" stroke="#dcdbe6" stroke-width="2.6"/>
<rect x="0" y="767.5" width="740" height="32.5" fill="#3c3b3a"/>
<text x="22.7" y="787.4" font-size="7.2" fill="#ffffff" textLength="62" lengthAdjust="spacingAndGlyphs" font-style="italic">2018, Anadolu Ajansı</text>
<text x="611.7" y="786.6" font-size="7.2" fill="#e8e8e8" textLength="75" lengthAdjust="spacingAndGlyphs" font-style="italic">twitter.com/anadoluajansi</text>
<path d="M696.84 790.5A10.65 10.65 0 1 1 715.96 790.5" fill="none" stroke="#fff" stroke-width="2.1"/>
<text x="696.3" y="793.3" font-size="19.6" fill="#ffffff" font-weight="bold" textLength="20.4" lengthAdjust="spacingAndGlyphs" stroke="#fff" stroke-width="0.9">AA</text>
</svg></body></html>
